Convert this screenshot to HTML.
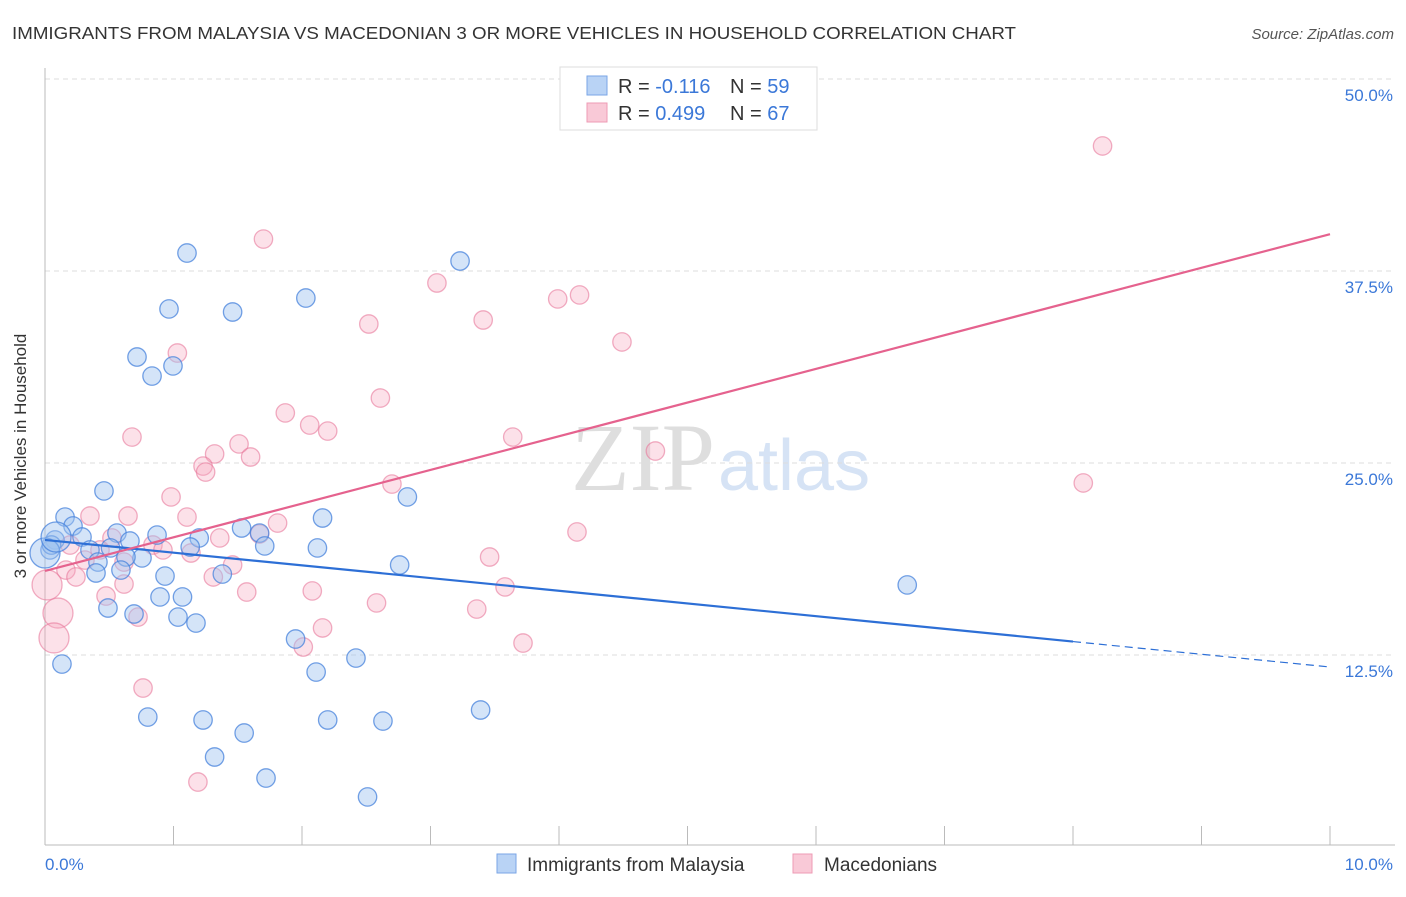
<!DOCTYPE html>
<html><head><meta charset="utf-8"><style>
body{margin:0;background:#fff;font-family:"Liberation Sans",sans-serif}
</style></head><body>
<svg width="1406" height="892" xmlns="http://www.w3.org/2000/svg" id="chart">
<text x="12" y="39" font-size="17.5" fill="#333" textLength="1004" lengthAdjust="spacingAndGlyphs">IMMIGRANTS FROM MALAYSIA VS MACEDONIAN 3 OR MORE VEHICLES IN HOUSEHOLD CORRELATION CHART</text>
<text x="1394" y="39" font-size="15" fill="#555" font-style="italic" text-anchor="end">Source: ZipAtlas.com</text>
<text x="715" y="490" font-size="96" fill="#dedede" text-anchor="end" font-family="Liberation Serif,serif">ZIP</text>
<text x="718" y="490" font-size="72" fill="#d6e3f5">atlas</text>
<g id="grid"></g>
<line x1="45" y1="68" x2="45" y2="845" stroke="#bbb"/>
<line x1="45" y1="845" x2="1395" y2="845" stroke="#bbb"/>
<g id="xticks"></g>
<text x="26" y="456" font-size="17" fill="#333" text-anchor="middle" transform="rotate(-90 26 456)">3 or more Vehicles in Household</text>
<text x="45" y="870" font-size="17" fill="#3b78d8">0.0%</text>
<text x="1393" y="870" font-size="17" fill="#3b78d8" text-anchor="end">10.0%</text>
<g id="pts"></g>
<g id="lines"></g>
<g>
<rect x="560" y="67" width="257" height="63" fill="#fff" stroke="#ddd"/>
<rect x="587" y="76" width="20" height="19" fill="#b9d3f5" stroke="#7aa6e6"/>
<rect x="587" y="103" width="20" height="19" fill="#f9c9d7" stroke="#ee9bb4"/>
<text x="618" y="93" font-size="20" fill="#333">R = <tspan fill="#3b78d8">-0.116</tspan></text>
<text x="730" y="93" font-size="20" fill="#333">N = <tspan fill="#3b78d8">59</tspan></text>
<text x="618" y="120" font-size="20" fill="#333">R = <tspan fill="#3b78d8">0.499</tspan></text>
<text x="730" y="120" font-size="20" fill="#333">N = <tspan fill="#3b78d8">67</tspan></text>
</g>
<g>
<rect x="497" y="854" width="19" height="19" fill="#b9d3f5" stroke="#7aa6e6"/>
<text x="527" y="871" font-size="19" fill="#333">Immigrants from Malaysia</text>
<rect x="793" y="854" width="19" height="19" fill="#f9c9d7" stroke="#ee9bb4"/>
<text x="824" y="871" font-size="19" fill="#333">Macedonians</text>
</g>
</svg>
<script>
const yTicks=[12.5,25,37.5,50];
const yTickLabels=["12.5%","25.0%","37.5%","50.0%"];
const xTicks=[1,2,3,4,5,6,7,8,9,10];
const blueX=[1.105,3.23,0.965,2.03,1.46,0.716,0.996,0.833,0.459,2.82,0.156,2.16,0.218,0.56,0.872,1.53,1.67,1.2,0.288,0.078,0.661,0.039,0.35,1.71,2.12,1.13,0.755,0.412,0.63,0.591,2.76,0.397,0.934,1.38,0.895,1.07,0.49,0.693,1.035,1.175,1.95,2.42,2.11,0.132,0.8,1.23,2.2,2.63,3.39,1.55,1.32,1.72,2.51,6.71,0.05,0.51,0.0,0.086];
const blueY=[38.67,38.15,35.03,35.74,34.83,31.9,31.32,30.66,23.18,22.79,21.48,21.42,20.9,20.44,20.31,20.77,20.44,20.12,20.18,19.99,19.92,19.34,19.34,19.6,19.47,19.53,18.82,18.55,18.88,18.03,18.36,17.84,17.64,17.77,16.28,16.28,15.56,15.17,14.97,14.58,13.54,12.3,11.39,11.91,8.46,8.27,8.27,8.2,8.92,7.42,5.86,4.49,3.26,17.06,19.66,19.47,19.14,20.18];
const pinkX=[8.23,1.7,3.05,3.99,4.16,3.41,2.52,4.49,1.03,2.61,1.87,2.06,2.2,0.677,3.64,1.51,1.32,1.6,4.75,1.23,1.25,2.7,8.08,0.981,0.35,0.646,1.105,1.81,4.14,1.67,0.521,1.36,0.84,0.918,1.136,0.195,0.428,3.46,0.311,0.615,1.46,0.163,0.241,1.31,3.58,0.615,1.57,0.475,2.08,2.58,3.36,0.724,0.101,2.16,0.07,2.01,3.72,0.763,1.19,0.016];
const pinkY=[45.64,39.58,36.72,35.68,35.94,34.31,34.05,32.88,32.16,29.23,28.26,27.47,27.08,26.69,26.69,26.24,25.59,25.39,25.78,24.8,24.41,23.63,23.7,22.79,21.55,21.55,21.48,21.09,20.51,20.38,20.12,20.12,19.66,19.34,19.14,19.66,19.34,18.88,18.68,18.55,18.36,18.03,17.58,17.58,16.93,17.12,16.6,16.34,16.67,15.89,15.49,14.97,15.23,14.26,13.61,13.02,13.28,10.35,4.23,17.06];
const blueBig=[56,57];const pinkBig=[59,52,54];
const blueTrend=[19.99,11.72];const pinkTrend=[17.97,39.9];
const X=v=>45+v*128.5, Y=v=>847-v*15.36;
const NS="http://www.w3.org/2000/svg";
function mk(t,a,p){const e=document.createElementNS(NS,t);for(const k in a)e.setAttribute(k,a[k]);p.appendChild(e);return e;}
const grid=document.getElementById('grid');
yTicks.forEach((t,i)=>{
 const l=mk('line',{x1:45,x2:1395,y1:Y(t),y2:Y(t),stroke:'#ddd','stroke-dasharray':'5,4'},grid);
 
 
 const tx=mk('text',{x:1393,y:Y(t)+22,'font-size':17,fill:'#3b78d8','text-anchor':'end'},grid);
 tx.textContent=yTickLabels[i];
 
 
});
const xt=document.getElementById('xticks');
xTicks.forEach(t=>{
 const l=mk('line',{x1:X(t),x2:X(t),y1:826,y2:845,stroke:'#bbb'},xt);
 
 
});
const pts=document.getElementById('pts');
function draw(xs,ys,big,fill,stroke,name){
 xs.forEach((x,i)=>{
  const r=big.includes(i)?15:9.2;
  const c=mk('circle',{cx:X(x),cy:Y(ys[i]),r:r,fill:fill,stroke:stroke,'stroke-width':1.3},pts);
  
  
 });
}
draw(pinkX,pinkY,pinkBig,'rgba(246,170,192,0.35)','rgba(232,120,155,0.6)','point-macedonians');
draw(blueX,blueY,blueBig,'rgba(160,195,240,0.45)','rgba(70,130,220,0.75)','point-malaysia');
const ln=document.getElementById('lines');
const bx=8.0, by=blueTrend[0]+(blueTrend[1]-blueTrend[0])*bx/10;
const b1=mk('line',{x1:X(0),y1:Y(blueTrend[0]),x2:X(bx),y2:Y(by),stroke:'#2d6fd6','stroke-width':2.2},ln);


const b2=mk('line',{x1:X(bx),y1:Y(by),x2:X(10),y2:Y(blueTrend[1]),stroke:'#2d6fd6','stroke-width':1.2,'stroke-dasharray':'8,5'},ln);


const p1=mk('line',{x1:X(0),y1:Y(pinkTrend[0]),x2:X(10),y2:Y(pinkTrend[1]),stroke:'#e5628e','stroke-width':2.2},ln);


</script>
</body></html>
